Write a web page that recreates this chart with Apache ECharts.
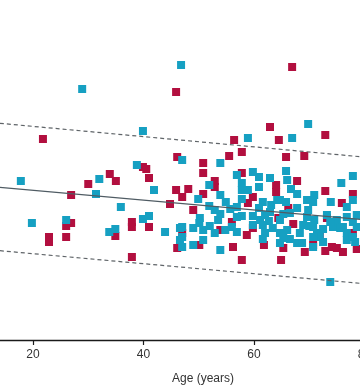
<!DOCTYPE html>
<html><head><meta charset="utf-8">
<script src="https://cdn.jsdelivr.net/npm/echarts@6/dist/echarts.min.js"></script>
<style>html,body{margin:0;padding:0;background:#fff}#c{width:360px;height:385px}</style>
</head><body><div id="c"></div>
<script>
// Group 1 (crimson)
const redAges = [45.9,66.9,21.8,46.1,39.9,40.5,33.9,35.0,41.0,30.0,45.9,26.9,44.8,26.9,26.0,26.0,22.9,22.9,37.9,37.9,41.0,34.9,46.1,37.9,
62.9,72.9,56.4,64.5,57.8,55.5,65.8,69.1,50.8,50.8,57.8,67.8,52.9,52.9,48.1,64.0,64.0,72.9,77.9,47.0,50.8,59.8,49.0,58.9,66.2,75.9,73.2,
53.9,58.7,67.1,77.9,47.0,50.1,56.2,61.8,65.3,69.2,72.9,74.1,75.0,76.1,78.6,57.8,64.9,59.8,
56.0,64.4,71.9,70.7];
const redValues = [24.8,27.3,20.1,18.3,17.3,17.1,16.6,15.9,16.2,15.6,15.0,14.5,13.6,11.7,11.4,10.3,10.3,9.8,11.8,11.3,11.3,10.4,9.2,8.3,
21.3,20.5,20.0,20.0,18.8,18.4,18.3,18.4,17.7,16.7,16.7,15.9,15.9,15.3,15.1,15.5,14.8,14.9,14.6,14.3,14.6,14.3,13.0,13.7,13.2,13.7,12.2,
11.0,10.5,11.6,10.7,10.7,9.5,9.3,9.5,9.2,8.8,8.9,9.3,9.2,8.8,9.1,8.0,8.0,11.2,
11.8,12.2,10.3,9.5];
// Group 2 (teal)
const blueAges = [28.9,46.8,39.9,38.8,32.0,17.8,41.9,31.4,35.9,19.8,26.0,39.9,41.0,33.8,34.9,43.9,46.6,46.6,
69.8,58.9,66.9,47.0,53.9,56.9,59.8,60.9,62.9,65.8,77.9,75.8,51.9,57.8,57.8,58.9,60.9,66.7,67.8,49.9,53.9,69.6,70.9,
61.6,63.1,64.7,65.8,51.9,52.9,53.9,54.9,55.7,56.9,57.8,59.8,61.1,62.7,64.7,66.5,67.8,69.8,70.9,69.6,73.2,73.9,76.8,77.9,78.6,75.0,76.1,
49.0,50.1,50.8,52.0,52.9,54.8,56.0,56.9,59.8,62.0,63.4,64.7,66.0,68.3,70.0,71.4,72.5,74.3,76.8,78.6,47.0,
49.0,50.8,53.9,61.6,64.7,66.5,67.8,68.7,70.7,71.9,76.8,77.9,47.0,73.8,
53.5,47.0,61.6,50.2,62.0,60.9,57.8,56.9,66.0,64.2,70.7,62.9,65.3,68.9,70.7,73.8,75.6,76.8,77.9,65.3,70.7,72.5,78.3];
const blueValues = [25.1,27.5,20.9,17.5,16.1,15.9,15.0,14.6,13.3,11.7,12.0,12.1,12.4,10.8,11.1,10.8,11.2,10.0,
21.6,20.2,20.2,18.0,17.7,16.5,16.8,16.3,16.2,16.9,16.4,15.7,15.5,15.7,15.0,15.0,15.3,15.1,14.6,14.1,14.5,14.0,14.5,
13.8,13.5,14.0,13.8,13.4,13.0,12.6,13.8,13.1,13.3,12.4,12.4,12.0,11.9,12.0,12.7,13.2,13.0,12.0,12.3,12.5,13.8,13.3,14.0,12.5,12.0,11.3,
11.2,11.7,11.0,11.4,10.7,11.0,11.3,10.8,11.5,10.7,11.2,10.7,11.0,10.7,11.4,10.7,11.1,11.3,10.7,11.3,11.3,
9.5,10.0,9.0,10.1,9.7,10.1,9.7,9.7,9.3,10.3,10.0,10.3,9.3,5.8,
12.0,10.3,11.5,12.2,12.5,13.2,14.1,12.3,16.0,14.0,13.8,12.8,12.6,11.5,11.3,11.8,11.2,12.3,11.8,10.2,10.3,9.8,9.8];
// Fit line and prediction bounds (values at the ends of the age range)
const fitAges = [14, 80];
const fitValues = [15.27, 12.03];
const upperValues = [21.67, 18.29];
const lowerValues = [8.93, 5.63];
const xTicks = [20, 40, 60, 80];

const zip = (a, b) => a.map((v, i) => [v, b[i]]);
const chart = echarts.init(document.getElementById('c'), null, {renderer: 'canvas'});
chart.setOption({
  animation: false,
  backgroundColor: '#ffffff',
  grid: {left: -77.5, right: -4.5, top: 0, bottom: 45, containLabel: false, outerBoundsMode: 'none'},
  title: {text: 'Age (years)', left: 167, top: 368,
    textStyle: {fontFamily: 'Liberation Sans', fontSize: 12, fontWeight: 'normal', color: '#333'}},
  xAxis: {type: 'value', min: 0, max: 80, interval: 20,
    axisLine: {lineStyle: {color: '#1a1a1a', width: 1.3}},
    axisTick: {show: true, length: 5, lineStyle: {color: '#1a1a1a', width: 1.2}},
    axisLabel: {margin: 9, fontFamily: 'Liberation Sans', fontSize: 12, color: '#333',
      formatter: v => xTicks.includes(v) ? String(v) : ''},
    splitLine: {show: false}},
  yAxis: {type: 'value', min: 0, max: 34, show: false, splitLine: {show: false}},
  series: [
    {type: 'line', data: zip(fitAges, upperValues), symbol: 'none', silent: true,
      lineStyle: {color: '#5f6468', width: 1.2, type: [4, 3]}},
    {type: 'line', data: zip(fitAges, lowerValues), symbol: 'none', silent: true,
      lineStyle: {color: '#5f6468', width: 1.2, type: [4, 3]}},
    {type: 'scatter', data: zip(redAges, redValues), symbol: 'rect', symbolSize: 8,
      itemStyle: {color: '#b20f3f', opacity: 1}},
    {type: 'scatter', data: zip(blueAges, blueValues), symbol: 'rect', symbolSize: 8,
      itemStyle: {color: '#16a0c2', opacity: 1}},
    {type: 'line', data: zip(fitAges, fitValues), symbol: 'none', silent: true, z: 5,
      lineStyle: {color: '#4f5b63', width: 1.2}}
  ]
});
</script></body></html>
